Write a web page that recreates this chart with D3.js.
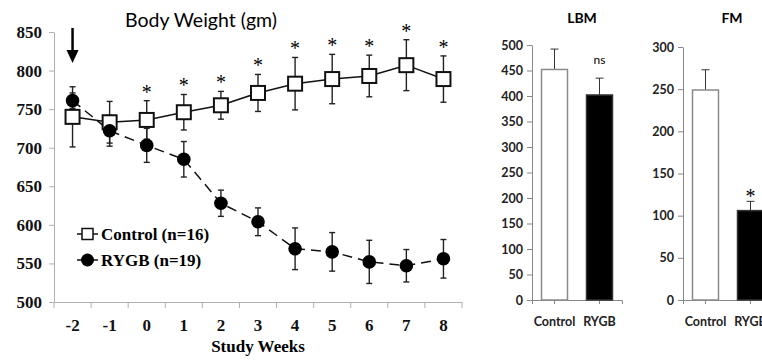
<!DOCTYPE html>
<html>
<head>
<meta charset="utf-8">
<script src="https://cdn.jsdelivr.net/npm/d3@7"></script>
<style>
  body { margin: 0; background: #fff; }
  svg { display: block; }
</style>
</head>
<body>
<div id="chart"></div>
<script>
const width = 762;
const height = 360;

// Body weight over time
const weeks = ["-2", "-1", "0", "1", "2", "3", "4", "5", "6", "7", "8"];
const controlMean = [740, 733, 736, 746, 755, 771, 783, 789, 793, 807, 789];
const controlErr = [39, 27, 25, 23, 18, 24, 34, 32, 27, 33, 30];
const rygbMean = [761, 722, 703, 685, 628, 604, 569, 565, 552, 547, 556];
const rygbErr = [10, 20, 22, 23, 17, 18, 27, 25, 28, 21, 25];
const sigWeeks = ["0", "1", "2", "3", "4", "5", "6", "7", "8"];
const yTicks = [500, 550, 600, 650, 700, 750, 800, 850];

// Body composition bars
const groups = ["Control", "RYGB"];
const lbmMean = [452, 402];
const lbmErr = [40, 33];
const lbmTicks = [0, 50, 100, 150, 200, 250, 300, 350, 400, 450, 500];
const fmMean = [249, 106];
const fmErr = [24, 11];
const fmTicks = [0, 50, 100, 150, 200, 250, 300];

const serif = "'Liberation Serif', 'Times New Roman', serif";
const sans = "Lato, 'Open Sans', sans-serif";
const axisGrey = "#b0b0b0";

const svg = d3.select("#chart").append("svg")
    .attr("width", width)
    .attr("height", height);

// ---------- line chart ----------
const x = d3.scaleBand().domain(weeks).range([54, 462]);
const y = d3.scaleLinear().domain([500, 850]).range([302, 32]);
const cx = w => x(w) + x.bandwidth() / 2;

svg.append("text")
    .attr("x", 201).attr("y", 27)
    .attr("text-anchor", "middle")
    .style("font", `19.5px ${sans}`)
    .text("Body Weight (gm)");

// y axis
const yAxis = svg.append("g")
    .attr("transform", "translate(54,0)")
    .call(d3.axisLeft(y).tickValues(yTicks).tickSize(5).tickSizeOuter(0).tickPadding(7));
yAxis.selectAll("text").style("font", `bold 17px ${serif}`).attr("fill", "#111");

// x axis, ticks on band boundaries
const xAxis = svg.append("g")
    .attr("transform", "translate(0,302)")
    .call(d3.axisBottom(x).tickSize(0).tickPadding(17));
xAxis.selectAll("text").style("font", `bold 17px ${serif}`).attr("fill", "#111");
xAxis.selectAll(".bound")
  .data(weeks.concat(["end"]))
  .join("line")
    .attr("class", "bound")
    .attr("x1", (d, i) => i < weeks.length ? x(d) : x.range()[1])
    .attr("x2", (d, i) => i < weeks.length ? x(d) : x.range()[1])
    .attr("y1", 0).attr("y2", 6)
    .attr("stroke", axisGrey);

for (const g of [yAxis, xAxis]) {
  g.selectAll("path, line").attr("stroke", axisGrey);
}

svg.append("text")
    .attr("x", 258).attr("y", 352)
    .attr("text-anchor", "middle")
    .style("font", `bold 17px ${serif}`)
    .text("Study Weeks");

// arrow at week -2
const ax = cx("-2");
svg.append("line")
    .attr("x1", ax).attr("x2", ax)
    .attr("y1", 28).attr("y2", 52)
    .attr("stroke", "#000").attr("stroke-width", 2.5);
svg.append("path")
    .attr("d", `M${ax - 6},50 L${ax + 6},50 L${ax},63 Z`)
    .attr("fill", "#000");

function errorBars(means, errs, cls) {
  const g = svg.append("g").attr("class", cls)
      .attr("stroke", "#222").attr("stroke-width", 1.4);
  g.selectAll("line.v")
    .data(weeks)
    .join("line")
      .attr("class", "v")
      .attr("x1", d => cx(d)).attr("x2", d => cx(d))
      .attr("y1", (d, i) => y(means[i] + errs[i]))
      .attr("y2", (d, i) => y(means[i] - errs[i]));
  for (const s of [1, -1]) {
    g.selectAll(`line.c${s}`)
      .data(weeks)
      .join("line")
        .attr("class", `c${s}`)
        .attr("x1", d => cx(d) - 3).attr("x2", d => cx(d) + 3)
        .attr("y1", (d, i) => y(means[i] + s * errs[i]))
        .attr("y2", (d, i) => y(means[i] + s * errs[i]));
  }
}

errorBars(controlMean, controlErr, "err-control");
errorBars(rygbMean, rygbErr, "err-rygb");

const line = d3.line().x(d => cx(d[0])).y(d => y(d[1]));

svg.append("path")
    .datum(weeks.map((w, i) => [w, controlMean[i]]))
    .attr("d", line)
    .attr("fill", "none").attr("stroke", "#111").attr("stroke-width", 1.5);

svg.append("path")
    .datum(weeks.map((w, i) => [w, rygbMean[i]]))
    .attr("d", line)
    .attr("fill", "none").attr("stroke", "#111").attr("stroke-width", 1.5)
    .attr("stroke-dasharray", "10,6");

svg.append("g")
  .selectAll("rect")
  .data(weeks)
  .join("rect")
    .attr("x", d => cx(d) - 7)
    .attr("y", (d, i) => y(controlMean[i]) - 7)
    .attr("width", 14).attr("height", 14)
    .attr("fill", "#fff").attr("stroke", "#111").attr("stroke-width", 2);

svg.append("g")
  .selectAll("circle")
  .data(weeks)
  .join("circle")
    .attr("cx", d => cx(d))
    .attr("cy", (d, i) => y(rygbMean[i]))
    .attr("r", 6.8)
    .attr("fill", "#000");

// significance stars
svg.append("g")
  .selectAll("text")
  .data(sigWeeks)
  .join("text")
    .attr("x", d => cx(d))
    .attr("y", d => {
      const i = weeks.indexOf(d);
      return y(controlMean[i] + controlErr[i]) - 2;
    })
    .attr("text-anchor", "middle")
    .style("font", `20px ${serif}`)
    .text("*");

// legend
const legend = [
  { label: "Control (n=16)", y: 234, type: "square" },
  { label: "RYGB (n=19)", y: 260, type: "circle" }
];
const lg = svg.append("g");
lg.selectAll("line")
  .data(legend)
  .join("line")
    .attr("x1", 77).attr("x2", 98)
    .attr("y1", d => d.y).attr("y2", d => d.y)
    .attr("stroke", "#111").attr("stroke-width", 1.5);
lg.selectAll("rect")
  .data(legend.filter(d => d.type === "square"))
  .join("rect")
    .attr("x", 82).attr("y", d => d.y - 5.5)
    .attr("width", 11).attr("height", 11)
    .attr("fill", "#fff").attr("stroke", "#111").attr("stroke-width", 1.5);
lg.selectAll("circle")
  .data(legend.filter(d => d.type === "circle"))
  .join("circle")
    .attr("cx", 87.5).attr("cy", d => d.y).attr("r", 6.5)
    .attr("fill", "#000");
lg.selectAll("text")
  .data(legend)
  .join("text")
    .attr("x", 101).attr("y", d => d.y + 6)
    .style("font", `bold 17px ${serif}`)
    .text(d => d.label);

// ---------- bar charts ----------
function barChart(opts) {
  const xb = d3.scaleBand().domain(groups).range([opts.left, opts.left + 90]);
  const yb = d3.scaleLinear().domain([0, opts.max]).range([300, opts.top]);
  const g = svg.append("g");

  g.append("text")
      .attr("x", opts.titleX).attr("y", 23)
      .attr("text-anchor", "middle")
      .style("font", `bold 14px ${sans}`)
      .text(opts.title);

  const ya = g.append("g")
      .attr("transform", `translate(${opts.left},0)`)
      .call(d3.axisLeft(yb).tickValues(opts.ticks).tickSize(5).tickSizeOuter(0).tickPadding(4));
  ya.selectAll("text").style("font", `bold 12.5px ${sans}`).attr("fill", "#222");

  const xa = g.append("g")
      .attr("transform", "translate(0,300)")
      .call(d3.axisBottom(xb).tickSize(4).tickSizeOuter(4).tickPadding(13));
  xa.selectAll("text").style("font", `bold 12.5px ${sans}`).attr("fill", "#222");

  for (const a of [ya, xa]) a.selectAll("path, line").attr("stroke", "#888");

  const bw = 26;
  const bx = d => xb(d) + xb.bandwidth() / 2 - bw / 2;

  // error bars (upper only)
  g.selectAll("line.err")
    .data(groups)
    .join("line")
      .attr("class", "err")
      .attr("x1", d => bx(d) + bw / 2).attr("x2", d => bx(d) + bw / 2)
      .attr("y1", (d, i) => yb(opts.mean[i]))
      .attr("y2", (d, i) => yb(opts.mean[i] + opts.err[i]))
      .attr("stroke", "#333").attr("stroke-width", 1);
  g.selectAll("line.cap")
    .data(groups)
    .join("line")
      .attr("class", "cap")
      .attr("x1", d => bx(d) + bw / 2 - 4).attr("x2", d => bx(d) + bw / 2 + 4)
      .attr("y1", (d, i) => yb(opts.mean[i] + opts.err[i]))
      .attr("y2", (d, i) => yb(opts.mean[i] + opts.err[i]))
      .attr("stroke", "#333").attr("stroke-width", 1);

  g.selectAll("rect")
    .data(groups)
    .join("rect")
      .attr("x", bx)
      .attr("y", (d, i) => yb(opts.mean[i]))
      .attr("width", bw)
      .attr("height", (d, i) => 300 - yb(opts.mean[i]))
      .attr("fill", (d, i) => i === 0 ? "#fff" : "#000")
      .attr("stroke", (d, i) => i === 0 ? "#8a8a8a" : "#333")
      .attr("stroke-width", 1.5);

  g.append("text")
      .attr("x", bx("RYGB") + bw / 2)
      .attr("y", yb(opts.mean[1] + opts.err[1]) - opts.markGap)
      .attr("text-anchor", "middle")
      .style("font", opts.markFont)
      .text(opts.mark);
}

barChart({
  left: 532, top: 45, max: 500, ticks: lbmTicks,
  mean: lbmMean, err: lbmErr, title: "LBM", titleX: 582,
  mark: "ns", markGap: 14, markFont: `12px ${sans}`
});

barChart({
  left: 683, top: 47, max: 300, ticks: fmTicks,
  mean: fmMean, err: fmErr, title: "FM", titleX: 732,
  mark: "*", markGap: -2, markFont: `20px ${serif}`
});
</script>
</body>
</html>
